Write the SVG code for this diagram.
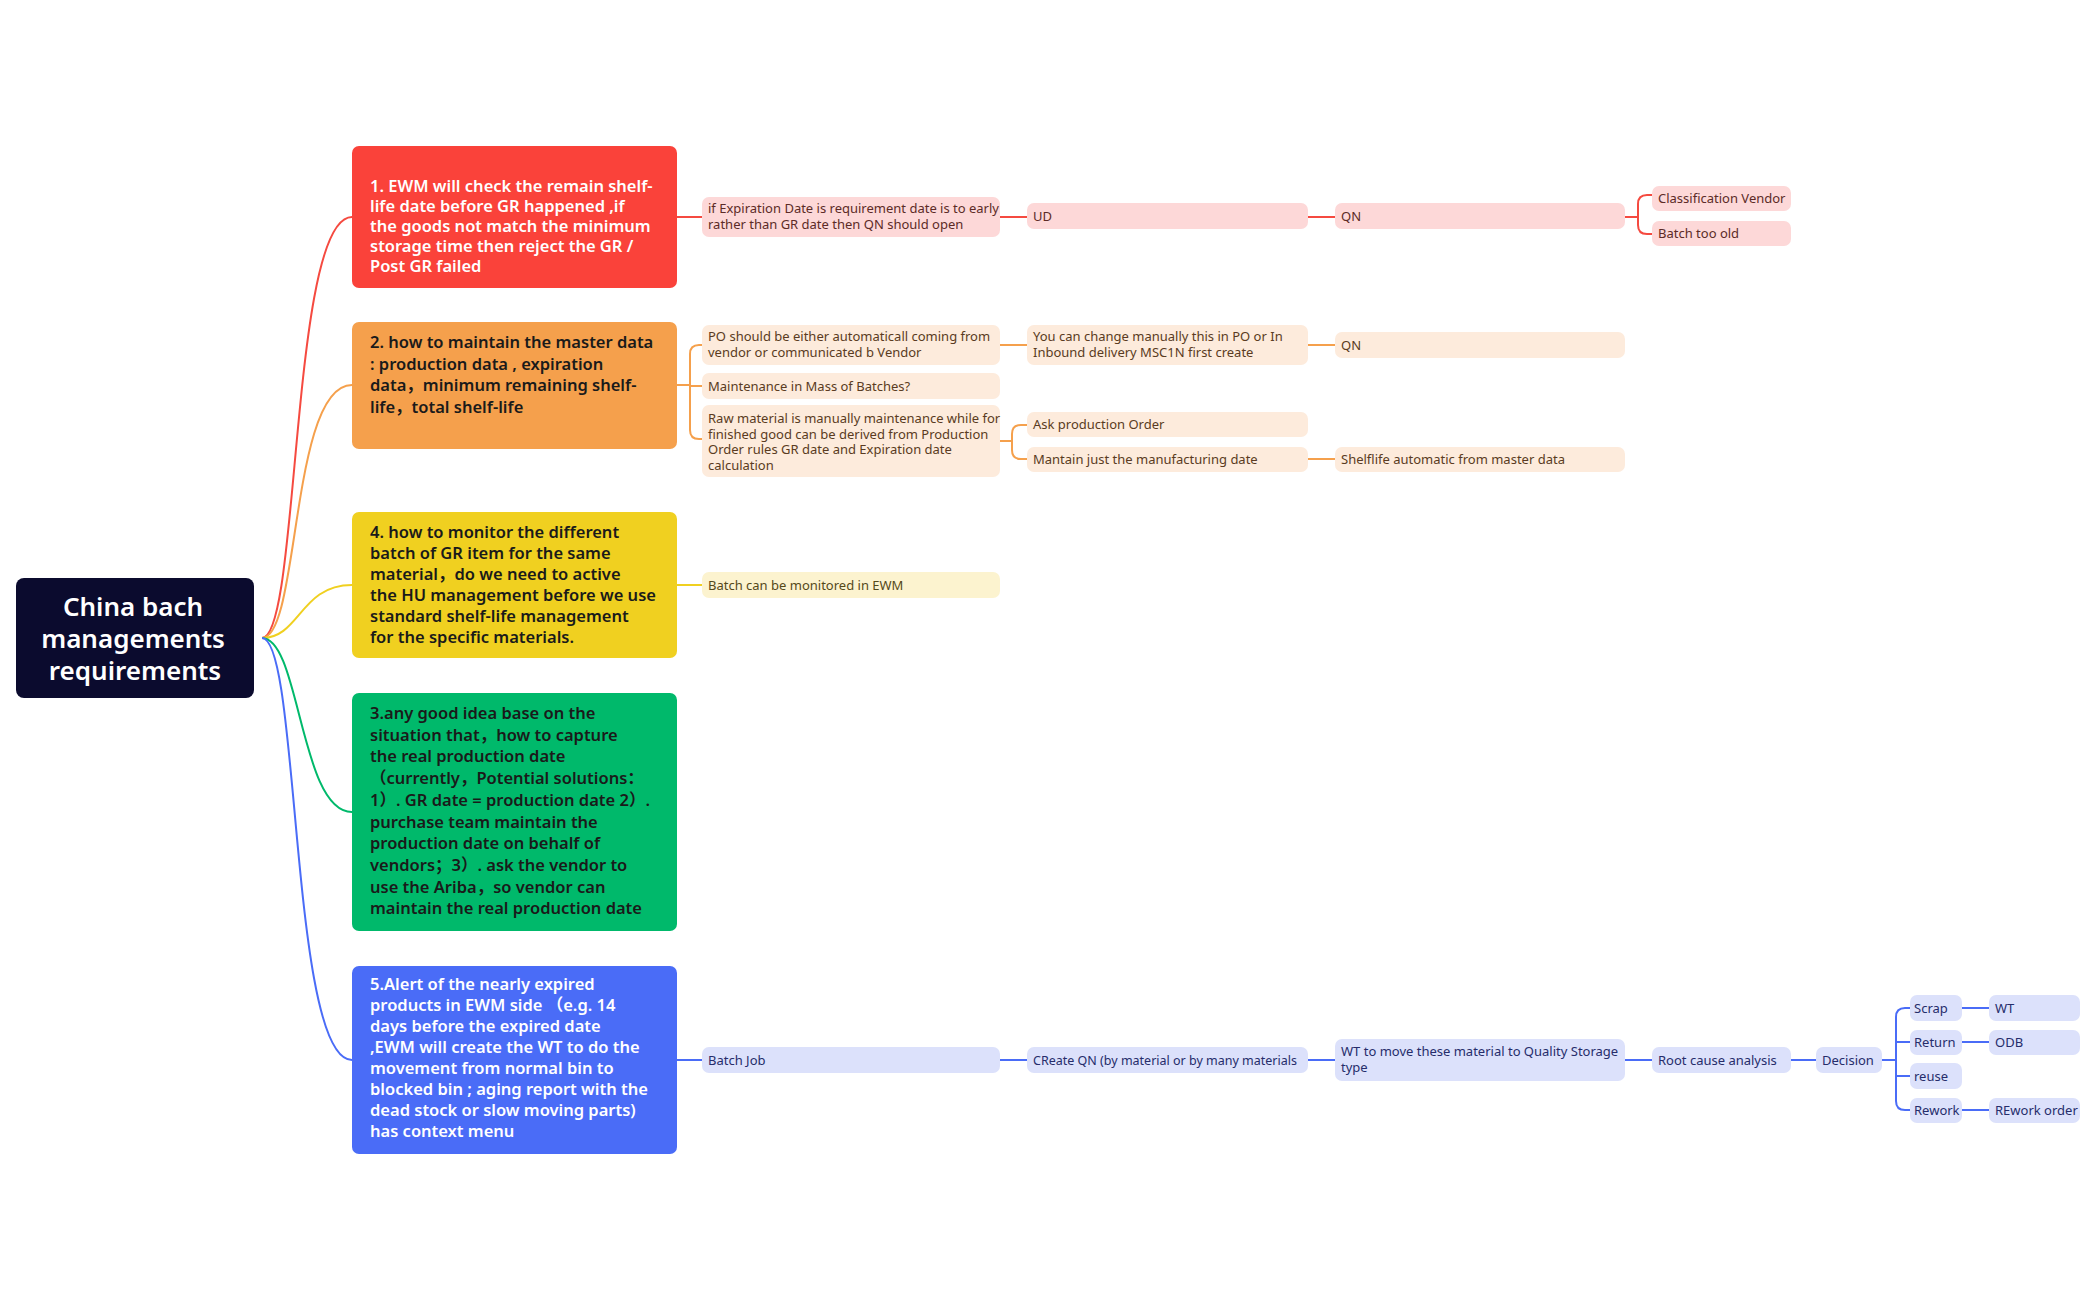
<svg xmlns="http://www.w3.org/2000/svg" width="2097" height="1300" viewBox="0 0 2097 1300">
<style>
text{font-family:"Noto Sans","Noto Sans CJK SC",sans-serif}
.m{font-size:16.5px;font-weight:600}
.s{font-size:13px}
.c{fill:none;stroke-width:2}
.w{fill:#fff}
.d{fill:#1a1a1a}
</style>
<rect width="2097" height="1300" fill="#fff"/>
<g id="connectors">
<path class="c" stroke="#f54a40" d="M262,638 C300,638 290,217 352,217"/>
<path class="c" stroke="#f5a04c" d="M262,638 C300,638 290,385 352,385"/>
<path class="c" stroke="#f0d020" d="M262,638 C300,638 300,585 352,585"/>
<path class="c" stroke="#00b96b" d="M262,638 C300,638 300,812 352,812"/>
<path class="c" stroke="#4a6cf7" d="M262,638 C300,638 290,1060 352,1060"/>
<path class="c" stroke="#f54a40" d="M677,217H702M1000,217H1027M1308,217H1335M1625,217H1638M1638,204V225q0,9 9,9H1652M1638,204q0,-9 9,-9H1652"/>
<path class="c" stroke="#f5a04c" d="M677,385H690M690,354V430M690,354q0,-9 9,-9H702M690,386H702M690,430q0,9 9,9H702M1000,345H1027M1308,345H1335M1000,441H1012M1012,434V450M1012,434q0,-9 9,-9H1027M1012,450q0,9 9,9H1027M1308,459H1335"/>
<path class="c" stroke="#f0d020" d="M677,585H702"/>
<path class="c" stroke="#4a6cf7" d="M677,1060H702M1000,1060H1027M1308,1060H1335M1625,1060H1652M1791,1060H1816M1882,1060H1896M1896,1017V1101M1896,1017q0,-9 9,-9H1910M1896,1042H1910M1896,1076H1910M1896,1101q0,9 9,9H1910M1962,1008H1989M1962,1042H1989M1962,1110H1989"/>
</g>
<g id="root"><rect x="16" y="578" width="238" height="120" rx="8" fill="#0b0b2e"/>
<text x="135" y="616" font-size="26" font-weight="600" fill="#fff" text-anchor="middle"><tspan x="133">China bach</tspan><tspan x="133" dy="32">managements</tspan><tspan x="135" dy="32">requirements</tspan></text></g>
<g id="n1"><rect x="352" y="146" width="325" height="142" rx="7" fill="#fa423a"/>
<text class="m w" x="370" y="192"><tspan>1. EWM will check the remain shelf-</tspan><tspan x="370" dy="20">life date before GR happened ,if</tspan><tspan x="370" dy="20">the goods not match the minimum</tspan><tspan x="370" dy="20">storage time then reject the GR /</tspan><tspan x="370" dy="20">Post GR failed</tspan></text></g>
<g id="n2"><rect x="352" y="322" width="325" height="127" rx="7" fill="#f5a04c"/>
<text class="m d" x="370" y="348"><tspan>2. how to maintain the master data</tspan><tspan x="370" dy="21.5">: production data , expiration</tspan><tspan x="370" dy="21.5">data，minimum remaining shelf-</tspan><tspan x="370" dy="21.5">life，total shelf-life</tspan></text></g>
<g id="n4"><rect x="352" y="512" width="325" height="146" rx="7" fill="#f0d020"/>
<text class="m d" x="370" y="538"><tspan>4. how to monitor the different</tspan><tspan x="370" dy="21">batch of GR item for the same</tspan><tspan x="370" dy="21">material，do we need to active</tspan><tspan x="370" dy="21">the HU management before we use</tspan><tspan x="370" dy="21">standard shelf-life management</tspan><tspan x="370" dy="21">for the specific materials.</tspan></text></g>
<g id="n3"><rect x="352" y="693" width="325" height="238" rx="7" fill="#00b96b"/>
<text class="m d" x="370" y="719"><tspan>3.any good idea base on the</tspan><tspan x="370" dy="21.7">situation that，how to capture</tspan><tspan x="370" dy="21.7">the real production date</tspan><tspan x="370" dy="21.7">（currently，Potential solutions：</tspan><tspan x="370" dy="21.7">1）. GR date = production date 2）.</tspan><tspan x="370" dy="21.7">purchase team maintain the</tspan><tspan x="370" dy="21.7">production date on behalf of</tspan><tspan x="370" dy="21.7">vendors；3）. ask the vendor to</tspan><tspan x="370" dy="21.7">use the Ariba，so vendor can</tspan><tspan x="370" dy="21.7">maintain the real production date</tspan></text></g>
<g id="n5"><rect x="352" y="966" width="325" height="188" rx="7" fill="#4a6cf7"/>
<text class="m w" x="370" y="990"><tspan>5.Alert of the nearly expired</tspan><tspan x="370" dy="21">products in EWM side （e.g. 14</tspan><tspan x="370" dy="21">days before the expired date</tspan><tspan x="370" dy="21">,EWM will create the WT to do the</tspan><tspan x="370" dy="21">movement from normal bin to</tspan><tspan x="370" dy="21">blocked bin ; aging report with the</tspan><tspan x="370" dy="21">dead stock or slow moving parts)</tspan><tspan x="370" dy="21">has context menu</tspan></text></g>
<g id="red-children" fill="#fdd8d8">
<rect x="702" y="197" width="298" height="40" rx="7"/><rect x="1027" y="203" width="281" height="26" rx="7"/><rect x="1335" y="203" width="290" height="26" rx="7"/><rect x="1652" y="186" width="139" height="25" rx="7"/><rect x="1652" y="221" width="139" height="25" rx="7"/>
<text class="s" fill="#5c2b27" x="708" y="213"><tspan>if Expiration Date is requirement date is to early</tspan><tspan x="708" dy="16">rather than GR date then QN should open</tspan></text>
<text class="s" fill="#5c2b27" x="1033" y="221">UD</text><text class="s" fill="#5c2b27" x="1341" y="221">QN</text>
<text class="s" fill="#5c2b27" x="1658" y="203">Classification Vendor</text><text class="s" fill="#5c2b27" x="1658" y="238">Batch too old</text></g>
<g id="orange-children" fill="#fdebdc">
<rect x="702" y="325" width="298" height="40" rx="7"/><rect x="702" y="373" width="298" height="26" rx="7"/><rect x="702" y="405" width="298" height="72" rx="7"/>
<rect x="1027" y="325" width="281" height="40" rx="7"/><rect x="1335" y="332" width="290" height="26" rx="7"/>
<rect x="1027" y="412" width="281" height="25" rx="7"/><rect x="1027" y="447" width="281" height="25" rx="7"/><rect x="1335" y="447" width="290" height="25" rx="7"/>
<g class="s" fill="#5a3b22">
<text x="708" y="341"><tspan>PO should be either automaticall coming from</tspan><tspan x="708" dy="16">vendor or communicated b Vendor</tspan></text>
<text x="708" y="391">Maintenance in Mass of Batches?</text>
<text x="708" y="423"><tspan>Raw material is manually maintenance while for</tspan><tspan x="708" dy="15.5">finished good can be derived from Production</tspan><tspan x="708" dy="15.5">Order rules GR date and Expiration date</tspan><tspan x="708" dy="15.5">calculation</tspan></text>
<text x="1033" y="341"><tspan>You can change manually this in PO or In</tspan><tspan x="1033" dy="16">Inbound delivery MSC1N first create</tspan></text>
<text x="1341" y="350">QN</text>
<text x="1033" y="429">Ask production Order</text>
<text x="1033" y="464">Mantain just the manufacturing date</text>
<text x="1341" y="464">Shelflife automatic from master data</text></g></g>
<g id="yellow-children"><rect x="702" y="572" width="298" height="26" rx="7" fill="#fcf3cf"/><text class="s" fill="#55491a" x="708" y="590">Batch can be monitored in EWM</text></g>
<g id="blue-children" fill="#dce1fb">
<rect x="702" y="1047" width="298" height="26" rx="7"/><rect x="1027" y="1047" width="281" height="26" rx="7"/><rect x="1335" y="1039" width="290" height="42" rx="7"/><rect x="1652" y="1047" width="139" height="26" rx="7"/><rect x="1816" y="1047" width="66" height="26" rx="7"/>
<rect x="1910" y="995" width="52" height="26" rx="7"/><rect x="1910" y="1030" width="52" height="25" rx="7"/><rect x="1910" y="1063" width="52" height="26" rx="7"/><rect x="1910" y="1098" width="52" height="25" rx="7"/>
<rect x="1989" y="995" width="91" height="26" rx="7"/><rect x="1989" y="1030" width="91" height="25" rx="7"/><rect x="1989" y="1098" width="91" height="25" rx="7"/>
<g class="s" fill="#262d6b">
<text x="708" y="1065">Batch Job</text><text x="1033" y="1065" font-size="12.5">CReate QN (by material or by many materials</text>
<text x="1341" y="1056"><tspan>WT to move these material to Quality Storage</tspan><tspan x="1341" dy="16">type</tspan></text>
<text x="1658" y="1065">Root cause analysis</text><text x="1822" y="1065">Decision</text>
<text x="1914" y="1013">Scrap</text><text x="1914" y="1047">Return</text><text x="1914" y="1081">reuse</text><text x="1914" y="1115">Rework</text>
<text x="1995" y="1013">WT</text><text x="1995" y="1047">ODB</text><text x="1995" y="1115">REwork order</text></g></g>
</svg>
